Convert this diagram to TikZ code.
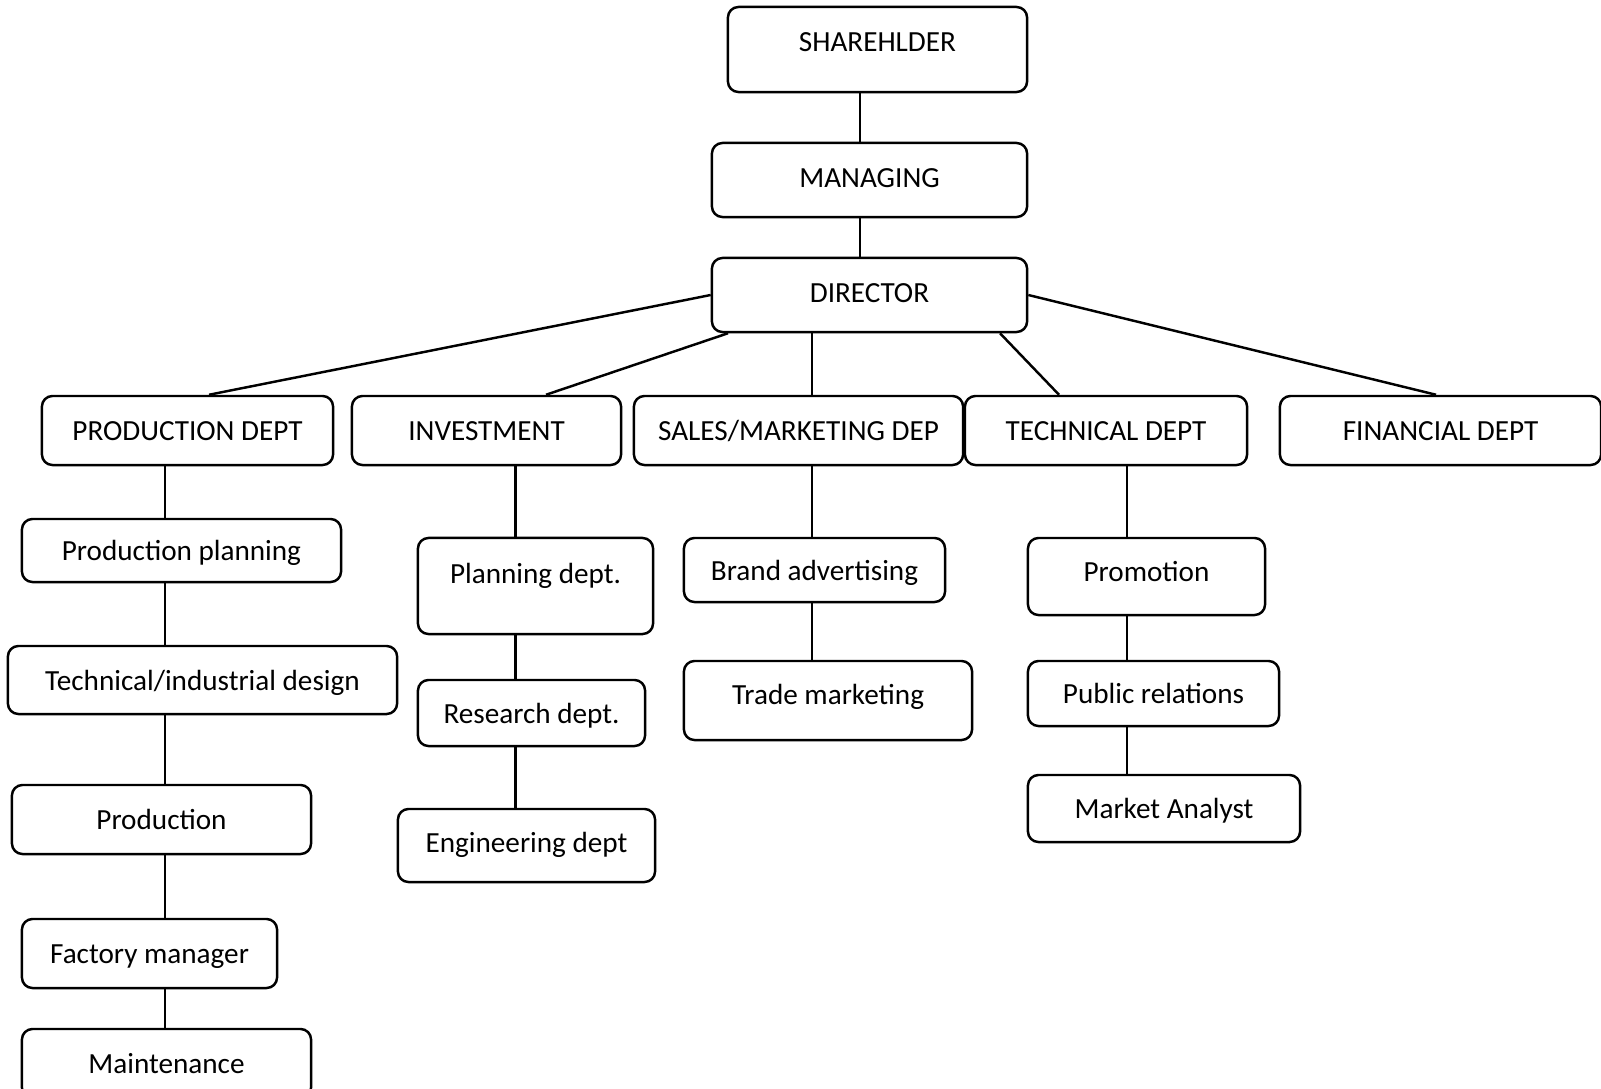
\documentclass[tikz,border=0pt]{standalone}
\usepackage{fontspec}
\setmainfont{Carlito}
\usepackage{tikz}

\begin{document}
\begin{tikzpicture}[x=0.01cm, y=-0.01cm, line width=0.7pt,
  box/.style={draw, rounded corners=3pt, inner sep=0pt, font=\fontsize{8.3}{10}\selectfont,
    text height=7.7pt, text depth=2pt}]
\useasboundingbox (0,0) rectangle (1601,1088);
% top of the chart
\node[box, minimum width=2.99cm, minimum height=0.85cm, text depth=6.8pt] (shr) at (877.5,49.5) {SHAREHLDER};
\node[box, minimum width=3.15cm, minimum height=0.74cm, text depth=3.5pt] (mng) at (869.5,180) {MANAGING};
\node[box, minimum width=3.15cm, minimum height=0.74cm, text depth=3.5pt] (dir) at (869.5,295) {DIRECTOR};
\draw (shr.south -| 860,0) -- (mng.north -| 860,0);
\draw (mng.south -| 860,0) -- (dir.north -| 860,0);
% departments
\node[box, minimum width=2.91cm, minimum height=0.69cm] (prod) at (187.5,430.5) {PRODUCTION DEPT};
\node[box, minimum width=2.69cm, minimum height=0.69cm] (inv) at (486.5,430.5) {INVESTMENT};
\node[box, minimum width=3.29cm, minimum height=0.69cm] (sales) at (798.5,430.5) {SALES/MARKETING DEP};
\node[box, minimum width=2.82cm, minimum height=0.69cm] (tech) at (1106,430.5) {TECHNICAL DEPT};
\node[box, minimum width=3.21cm, minimum height=0.69cm] (fin) at (1440.5,430.5) {FINANCIAL DEPT};
\draw (dir.west) -- (prod.north -| 209,0);
\draw (dir.south -| 728,0) -- (inv.north -| 546,0);
\draw (dir.south -| 812,0) -- (sales.north -| 812,0);
\draw (dir.south -| 1000,0) -- (tech.north -| 1059,0);
\draw (dir.east) -- (fin.north -| 1436,0);
% production column
\node[box, minimum width=3.19cm, minimum height=0.63cm] (pplan) at (181.5,550.5) {Production planning};
\node[box, minimum width=3.89cm, minimum height=0.68cm] (tdes) at (202.5,680) {Technical/industrial design};
\node[box, minimum width=2.99cm, minimum height=0.69cm] (pron) at (161.5,819.5) {Production};
\node[box, minimum width=2.55cm, minimum height=0.69cm] (fman) at (149.5,953.5) {Factory manager};
\node[box, minimum width=2.89cm, minimum height=0.69cm] (mnt) at (166.5,1063.5) {Maintenance};
\foreach \a/\b in {prod/pplan, pplan/tdes, tdes/pron, pron/fman, fman/mnt}
    \draw (\a.south -| 165,0) -- (\b.north -| 165,0);
% investment column
\node[box, minimum width=2.35cm, minimum height=0.96cm, text depth=9.4pt] (pdep) at (535.5,586) {Planning dept.};
\node[box, minimum width=2.27cm, minimum height=0.66cm] (rdep) at (531.5,713) {Research dept.};
\node[box, minimum width=2.57cm, minimum height=0.73cm, text depth=3.5pt] (edep) at (526.5,845.5) {Engineering dept};
\foreach \a/\b in {inv/pdep, pdep/rdep, rdep/edep}
    \draw (\a.south -| 515.5,0) -- (\b.north -| 515.5,0);
% sales column
\node[box, minimum width=2.61cm, minimum height=0.64cm] (brand) at (814.5,570) {Brand advertising};
\node[box, minimum width=2.88cm, minimum height=0.79cm, text depth=5.7pt] (trade) at (828,700.5) {Trade marketing};
\foreach \a/\b in {sales/brand, brand/trade}
    \draw (\a.south -| 812,0) -- (\b.north -| 812,0);
% technical column
\node[box, minimum width=2.37cm, minimum height=0.77cm, text depth=4.6pt] (promo) at (1146.5,576.5) {Promotion};
\node[box, minimum width=2.51cm, minimum height=0.65cm] (prel) at (1153.5,693.5) {Public relations};
\node[box, minimum width=2.72cm, minimum height=0.67cm] (mana) at (1164,808.5) {Market Analyst};
\foreach \a/\b in {tech/promo, promo/prel, prel/mana}
    \draw (\a.south -| 1127,0) -- (\b.north -| 1127,0);
\end{tikzpicture}
\end{document}
